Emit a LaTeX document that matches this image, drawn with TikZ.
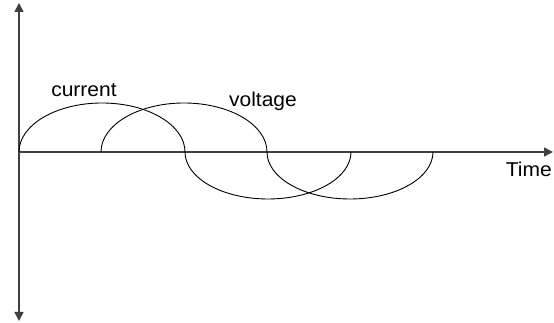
\documentclass[tikz,border=0pt]{standalone}
\usepackage{fontspec}
\setmainfont{Liberation Sans}
\usetikzlibrary{arrows.meta}
\begin{document}
\begin{tikzpicture}[x=1pt,y=1pt,
    axis/.style={draw=black!75,line width=1.5pt,-{Triangle[length=9pt,width=9pt]}},
    wave/.style={draw=black,line width=0.9pt},
    label/.style={font=\fontsize{20}{22}\selectfont,anchor=base,xscale=1.05}]
      \useasboundingbox (0,0) rectangle (554,323);
      \coordinate (o) at (19,171);
      \coordinate (top) at (19,320);
      \coordinate (bottom) at (19,2);
      \coordinate (right) at (553,171);
      \draw[axis] (o) -- (top);
      \draw[axis] (o) -- (bottom);
      \draw[axis] (o) -- (right);
      \begin{scope}[wave]
        \draw (o) arc (180:0:83 and 49) arc (180:360:83 and 47);
        \draw (101,171) arc (180:0:83 and 49) arc (180:360:83 and 47);
      \end{scope}
      \node[label] (current) at (84,226) {current};
      \node[label] (voltage) at (263,216) {voltage};
      \node[label,anchor=base east,inner sep=1pt] (time) at (553,146) {Time};
    \end{tikzpicture}
\end{document}
